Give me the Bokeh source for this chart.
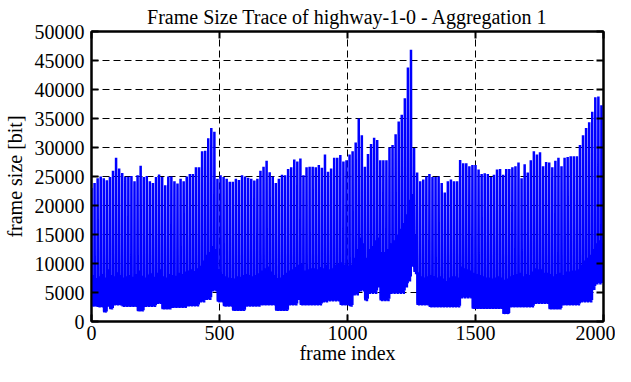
from bokeh.plotting import figure
from bokeh.models import LinearAxis, Range1d, FixedTicker
from bokeh.embed import file_html
from bokeh.resources import INLINE

# ---------------- data ----------------
title_text = "Frame Size Trace of highway-1-0 - Aggregation 1"
x_label = "frame index"
y_label = "frame size [bit]"
n_frames = 2000
x_ticks = [0, 500, 1000, 1500, 2000]
y_ticks = [0, 5000, 10000, 15000, 20000, 25000, 30000, 35000, 40000, 45000, 50000]

# GOP structure of the trace (12 frames per GOP)
gop_pattern = ["I", "B", "B", "P", "B", "B", "P", "B", "B", "P", "B", "B"]
# relative size of the eight B frames inside one GOP
b_shape = [1.00, 0.90, 1.10, 0.95, 1.14, 0.86, 1.05, 0.97]

# I-frame sizes, one per GOP
i_frames = [
    23000, 23900, 24700, 25000, 24700, 24350, 24900, 26000, 28250, 26400, 25600, 24950,
    24950, 25100, 24200, 25200, 26850, 24900, 25100, 24200, 23900, 24900, 25350, 24900,
    23500, 25000, 25000, 24200, 23800, 24600, 24200, 25000, 25450, 25450, 26600, 26600,
    29350, 29450, 31600, 33350, 32700, 24600, 25200, 24900, 24600, 24100, 24100, 24600,
    24400, 25200, 25000, 24800, 24600, 24300, 24600, 26000, 26700, 27700, 25750, 25000,
    23900, 24600, 25300, 25200, 26300, 26600, 27950, 27600, 28100, 25200, 26600, 26700,
    26700, 26600, 27000, 26500, 28800, 25800, 26400, 28250, 28250, 28700, 27600, 27800,
    28800, 29350, 30850, 35000, 32100, 26700, 28900, 30600, 31700, 31300, 27800, 27800,
    27800, 30000, 30450, 32300, 34500, 35650, 38500, 43800, 46850, 29900, 25700, 24200,
    24500, 25000, 25450, 24900, 24900, 25000, 23900, 22250, 24200, 24500, 24200, 24200,
    27850, 27300, 27300, 26750, 27000, 27000, 26200, 25450, 25550, 25450, 24900, 25300,
    26200, 26300, 25300, 26300, 26300, 26600, 26750, 27400, 24700, 27100, 25700, 27800,
    29350, 28800, 29200, 26750, 27500, 27400, 26600, 27700, 28250, 26750, 28250, 28350,
    28500, 28500, 28500, 30450, 32100, 33350, 34350, 36150, 38650, 38800, 37300,
]

# P-frame sizes, one per GOP
p_frames = [
    8000, 7500, 7800, 8200, 7600, 9000, 8000, 7800, 8500, 8000, 7600, 7800,
    8000, 7700, 8200, 8800, 7900, 7600, 8100, 8300, 7700, 8400, 9000, 7800,
    7600, 8200, 8000, 7900, 8400, 8200, 8600, 8800, 9000, 8700, 9200, 9600,
    10500, 11500, 12000, 13000, 12500, 9000, 8200, 7800, 7600, 7500, 7400, 7800,
    7700, 8000, 8200, 8000, 7800, 8000, 8300, 8800, 9200, 9500, 8600, 8000,
    7500, 7600, 8000, 8400, 8800, 9000, 9400, 9800, 10000, 8800, 9000, 9200,
    9200, 9000, 9400, 9200, 9800, 9000, 9200, 9800, 10000, 10200, 9800, 9600,
    9800, 11000, 12500, 14500, 13500, 11000, 12500, 13000, 14000, 14500, 12000, 12000,
    12500, 13500, 14000, 15000, 16000, 17000, 18500, 21000, 22000, 15000, 8500, 7800,
    7600, 7800, 8000, 7800, 7600, 7800, 7400, 7000, 7600, 7800, 7800, 7600,
    9500, 9200, 9000, 8800, 8400, 8200, 8000, 7800, 7600, 7600, 7400, 7600,
    7800, 7600, 7200, 7400, 7800, 8000, 8200, 8400, 7800, 8200, 8000, 8600,
    9200, 9000, 9000, 8400, 8400, 8200, 7800, 8200, 8400, 8000, 8600, 8600,
    8800, 8800, 9000, 9800, 10500, 11000, 11500, 12500, 13500, 14000, 13500,
]

# B-frame base sizes, one per GOP
b_frames = [
    2950, 2950, 2800, 2800, 1800, 2950, 2400, 3200, 3200, 3200, 2900, 2900,
    2900, 2900, 2900, 2000, 2000, 2900, 2900, 2900, 2900, 3500, 3500, 2400,
    2400, 2400, 2700, 2700, 2700, 2700, 2700, 3000, 3000, 3000, 3000, 3800,
    3800, 4300, 4300, 6000, 6000, 3800, 3800, 2950, 2950, 2950, 2100, 2100,
    2100, 2100, 2950, 2950, 2950, 2950, 2950, 3200, 3200, 3200, 3200, 3200,
    2100, 2100, 2100, 2100, 3200, 3200, 3200, 4300, 3200, 3200, 3200, 3200,
    3200, 3200, 3200, 3800, 3800, 4000, 4000, 4000, 4000, 3200, 3200, 3200,
    2950, 5200, 5200, 6000, 6000, 4050, 5500, 5500, 5500, 6800, 4050, 4050,
    4050, 5500, 5500, 5500, 5500, 5500, 6800, 8000, 11000, 9500, 3200, 3200,
    3200, 3200, 2800, 2800, 2800, 2800, 2800, 2800, 2800, 2800, 2800, 2800,
    4600, 4600, 4600, 4600, 2500, 2500, 2500, 2500, 2500, 2500, 2500, 2500,
    2500, 2500, 1500, 1500, 2800, 2800, 2800, 2800, 2800, 2800, 2800, 2800,
    3500, 3500, 3500, 3500, 3500, 2400, 2400, 2400, 2400, 3200, 3200, 3200,
    3200, 3200, 3200, 3800, 3800, 3800, 3800, 6300, 7400, 7400, 7400,
]

# ---------------- expand GOPs into the frame-size trace ----------------
frame_size = []
for k in range(len(i_frames)):
    b_pos = 0
    for kind in gop_pattern:
        if kind == "I":
            frame_size.append(i_frames[k])
        elif kind == "P":
            frame_size.append(p_frames[k])
        else:
            frame_size.append(round(b_frames[k] * b_shape[b_pos]))
            b_pos += 1
frame_size = frame_size[:n_frames]
frame_index = list(range(len(frame_size)))

# ---------------- figure ----------------
FONT = "Times New Roman"

p = figure(width=615, height=366, output_backend="svg", toolbar_location=None,
           x_range=Range1d(0, 2000), y_range=Range1d(0, 50000),
           min_border_left=84, min_border_right=12, min_border_top=21,
           min_border_bottom=40)
p.background_fill_color = "white"
p.border_fill_color = "white"
p.outline_line_color = "black"
p.outline_line_width = 2

p.title.text = title_text
p.title.text_font = FONT
p.title.text_font_size = "20px"
p.title.text_font_style = "normal"
p.title.text_color = "black"
p.title.align = "center"
p.title.standoff = 7

p.line(frame_index, frame_size, line_color="#0000ff", line_width=2.5,
       line_join="bevel")

p.axis.major_label_text_font = FONT
p.axis.major_label_text_font_size = "20px"
p.axis.major_label_text_color = "black"
p.axis.axis_label_text_font = FONT
p.axis.axis_label_text_font_size = "20px"
p.axis.axis_label_text_font_style = "normal"
p.axis.axis_label_text_color = "black"
p.axis.major_tick_in = 7
p.axis.major_tick_out = 0
p.axis.major_tick_line_width = 2
p.axis.minor_tick_line_color = None
p.axis.axis_line_width = 2

p.xaxis[0].ticker = FixedTicker(ticks=x_ticks)
p.yaxis[0].ticker = FixedTicker(ticks=y_ticks)
p.xaxis[0].axis_label = x_label
p.yaxis[0].axis_label = y_label
p.xaxis[0].major_label_standoff = 4
p.xaxis[0].axis_label_standoff = -1
p.yaxis[0].major_label_standoff = 7
p.yaxis[0].axis_label_standoff = 6

for loc, tks in (("above", x_ticks), ("right", y_ticks)):
    ax = LinearAxis(ticker=FixedTicker(ticks=tks),
                    major_label_overrides={t: "" for t in tks},
                    major_label_text_font_size="1px",
                    major_label_standoff=0,
                    major_tick_in=7, major_tick_out=0,
                    major_tick_line_width=2,
                    minor_tick_line_color=None,
                    axis_line_width=2)
    p.add_layout(ax, loc)

p.xgrid.ticker = FixedTicker(ticks=x_ticks)
p.ygrid.ticker = FixedTicker(ticks=y_ticks)
for g in (p.xgrid[0], p.ygrid[0]):
    g.grid_line_color = "black"
    g.grid_line_width = 1
    g.grid_line_dash = "7 4"
    g.grid_line_alpha = 1.0

open("out.html", "w").write(file_html(p, INLINE))
